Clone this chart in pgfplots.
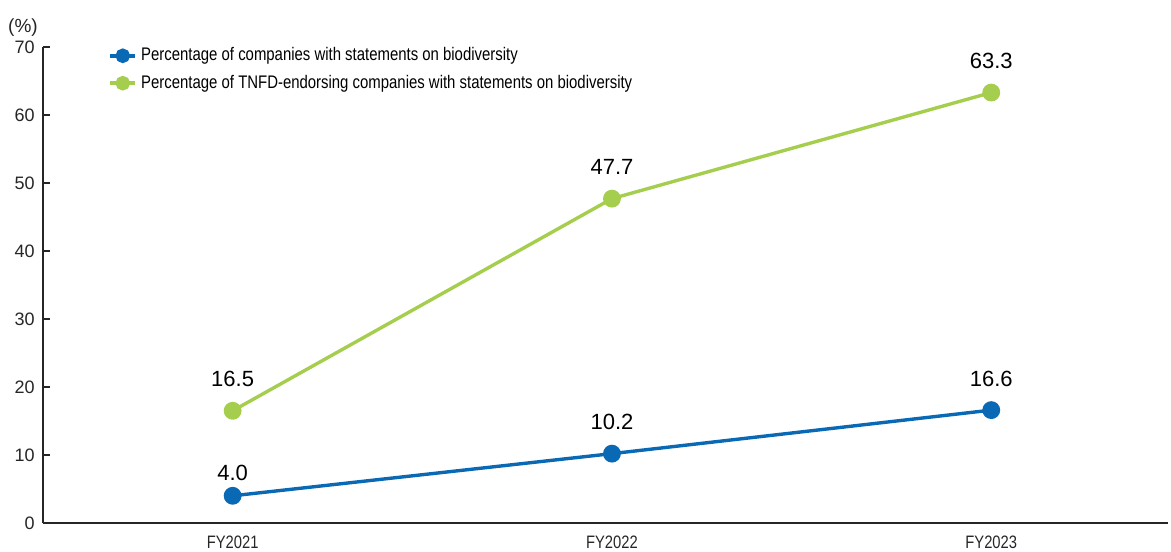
\documentclass[border=0pt]{standalone}
\usepackage{pgfplots}
\pgfplotsset{compat=1.18}
\usepackage{fontspec}
\setmainfont{Liberation Sans}
\definecolor{cblue}{HTML}{0A69B5}
\definecolor{cgreen}{HTML}{A6CE4E}
\newcommand{\cond}[1]{\scalebox{0.82}[1]{#1}}
\begin{document}
\begin{tikzpicture}
\useasboundingbox (-21.5pt,-14pt) rectangle (564pt,261.5pt);
\begin{axis}[
  at={(0,0)}, anchor=south west,
  scale only axis, width=562.5pt, height=238pt,
  xmin=-0.5, xmax=2.466, ymin=0, ymax=70,
  axis x line=bottom, axis y line=left,
  axis line style={-, line width=0.8pt, black!85},
  xtick={0,1,2},
  xticklabels={{\cond{FY2021}},{\cond{FY2022}},{\cond{FY2023}}},
  xtick style={draw=none},
  x tick label style={font=\fontsize{9}{10}\selectfont, text=black!85, anchor=north, inner sep=0pt, yshift=-6.5pt},
  ytick={0,10,...,70},
  tick align=inside, major tick length=3.5pt,
  ytick style={line width=0.8pt, black!85},
  y tick label style={font=\fontsize{9}{10}\selectfont, text=black!85, inner sep=0pt, xshift=-4pt},
  /pgf/number format/assume math mode=true,
  clip=false,
  legend style={at={(rel axis cs:0,1)}, anchor=north west, xshift=32.5pt, yshift=0.3pt,
    draw=none, fill=none, inner sep=0pt, row sep=4.7pt,
    font=\fontsize{9.1}{10}\selectfont,
    nodes={inner sep=0pt, inner xsep=2pt, text height=7pt, text depth=2pt}},
  legend cell align=left,
  legend image code/.code={
    \draw[line width=1.9pt] (0pt,0pt) -- (12.5pt,0pt);
    \fill (6.25pt,0pt) circle (2.8pt);
  },
  nodes near coords,
  point meta=explicit symbolic,
  every node near coord/.append style={font=\fontsize{11}{12}\selectfont, text=black, anchor=base, inner sep=0pt, yshift=12pt},
]
\addplot[color=cblue, line width=1.7pt, mark=*, mark size=3.6pt, mark options={solid}]
  coordinates {(0,4.0)[] (1,10.2)[10.2] (2,16.6)[16.6]};
\addlegendentry{\cond{Percentage of companies with statements on biodiversity}}
\addplot[color=cgreen, line width=1.7pt, mark=*, mark size=3.6pt, mark options={solid}]
  coordinates {(0,16.5)[16.5] (1,47.7)[47.7] (2,63.3)[63.3]};
\addlegendentry{\cond{Percentage of TNFD-endorsing companies with statements on biodiversity}}
\node[font=\fontsize{11}{12}\selectfont, anchor=base, inner sep=0pt, yshift=7.5pt] at (axis cs:0,4.0) {4.0};
\node[font=\fontsize{9.5}{10}\selectfont, text=black!85] at (rel axis cs:0,1) [xshift=-10pt, yshift=9.5pt] {(\%)};
\end{axis}
\end{tikzpicture}
\end{document}
